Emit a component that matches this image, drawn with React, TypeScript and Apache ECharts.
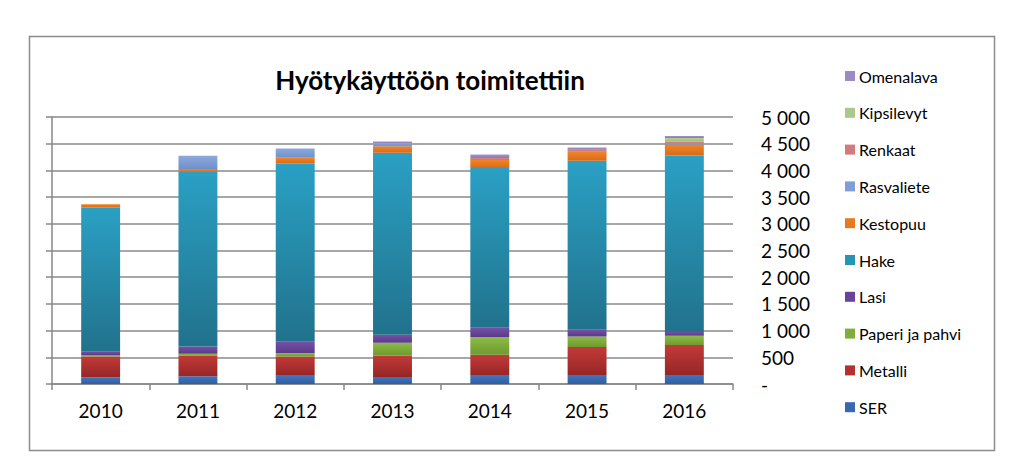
import React, { useEffect, useRef } from "react";
import * as echarts from "echarts";

const years = ["2010", "2011", "2012", "2013", "2014", "2015", "2016"];
const ser = [125, 143, 156, 131, 156, 168, 168];
const metalli = [390, 387, 361, 405, 392, 524, 561];
const paperi = [30, 37, 62, 237, 330, 199, 174];
const lasi = [60, 137, 212, 149, 175, 125, 69];
const hake = [2700, 3271, 3340, 3408, 2990, 3164, 3308];
const kestopuu = [62, 50, 105, 124, 150, 169, 206];
const rasvaliete = [0, 249, 175, 60, 0, 0, 20];
const renkaat = [0, 0, 0, 0, 40, 40, 30];
const kipsilevyt = [0, 0, 0, 0, 0, 0, 70];
const omenalava = [0, 0, 0, 28, 66, 41, 40];

const yMin = 0;
const yMax = 5000;
const yStep = 500;

const FONT = "Lato, 'Open Sans', sans-serif";

function grad(top: string, bottom: string) {
  return new echarts.graphic.LinearGradient(0, 0, 0, 1, [
    { offset: 0, color: top },
    { offset: 1, color: bottom },
  ]);
}

const seriesDefs: { name: string; data: number[]; color: any; legendColor: string }[] = [
  { name: "SER", data: ser, color: grad("#3f74bf", "#2f5f9f"), legendColor: "#3868ae" },
  { name: "Metalli", data: metalli, color: grad("#c23a38", "#962626"), legendColor: "#b2302e" },
  { name: "Paperi ja pahvi", data: paperi, color: grad("#8cbb45", "#6f9a30"), legendColor: "#80ad3c" },
  { name: "Lasi", data: lasi, color: grad("#7650a6", "#5a3a88"), legendColor: "#67449a" },
  { name: "Hake", data: hake, color: grad("#2aa0c4", "#21728c"), legendColor: "#2794b4" },
  { name: "Kestopuu", data: kestopuu, color: grad("#f08428", "#d96b17"), legendColor: "#e77a20" },
  { name: "Rasvaliete", data: rasvaliete, color: grad("#8ca9dc", "#7090c8"), legendColor: "#7f9ed4" },
  { name: "Renkaat", data: renkaat, color: grad("#d88a8c", "#c47074"), legendColor: "#d27a7e" },
  { name: "Kipsilevyt", data: kipsilevyt, color: grad("#b3d296", "#98bd78"), legendColor: "#a8c98a" },
  { name: "Omenalava", data: omenalava, color: grad("#a796cc", "#8a78b6"), legendColor: "#9b8ac4" },
];

function fmt(v: number) {
  if (v === 0) return "-";
  return String(v).replace(/\B(?=(\d{3})+(?!\d))/g, " ");
}

export default function App() {
  const ref = useRef<HTMLDivElement>(null);
  useEffect(() => {
    if (!ref.current) return;
    const chart = echarts.init(ref.current, undefined, { renderer: "svg" });
    chart.setOption({
      animation: false,
      backgroundColor: "#ffffff",
      title: {
        text: "Hyötykäyttöön toimitettiin",
        left: 425,
        textAlign: "center",
        top: 62,
        textStyle: { fontFamily: FONT, fontSize: 26, fontWeight: "bold", color: "#000" },
      },
      graphic: [
        {
          type: "rect",
          shape: { x: 29.5, y: 36.5, width: 965, height: 414 },
          style: { fill: "none", stroke: "#8c8c8c", lineWidth: 1.5 },
          silent: true,
        },
      ],
      legend: {
        orient: "vertical",
        left: 840,
        top: 63,
        icon: "rect",
        itemWidth: 10,
        itemHeight: 10,
        itemGap: 20.8,
        data: seriesDefs
          .slice()
          .reverse()
          .map((s) => ({ name: s.name, itemStyle: { color: s.legendColor } })),
        textStyle: { fontFamily: FONT, fontSize: 16, color: "#000", lineHeight: 16, padding: [0, 0, 0, -1] },
      },
      grid: { left: 52, right: 290, top: 117, bottom: 90 },
      xAxis: {
        type: "category",
        data: years,
        axisLine: { show: true, lineStyle: { color: "#878787", width: 1.5 } },
        axisTick: { show: true, length: 6, lineStyle: { color: "#878787", width: 1.5 } },
        axisLabel: { fontFamily: FONT, fontSize: 19, color: "#000", margin: 17 },
      },
      yAxis: [
        {
          type: "value",
          min: yMin,
          max: yMax,
          interval: yStep,
          position: "left",
          axisLine: { show: true, lineStyle: { color: "#878787", width: 1.5 } },
          axisTick: { show: true, length: 6, lineStyle: { color: "#878787", width: 1.5 } },
          axisLabel: { show: false },
          splitLine: { show: true, lineStyle: { color: "#8a8a8a", width: 1.5 } },
        },
        {
          type: "value",
          min: yMin,
          max: yMax,
          interval: yStep,
          position: "right",
          axisLine: { show: false },
          axisTick: { show: false },
          splitLine: { show: false },
          axisLabel: {
            fontFamily: FONT,
            fontSize: 19,
            color: "#000",
            margin: 28,
            align: "left",
            formatter: (v: number) => fmt(v),
          },
        },
      ],
      series: seriesDefs.map((s) => ({
        name: s.name,
        type: "bar",
        stack: "total",
        yAxisIndex: 0,
        barWidth: "40%",
        data: s.data,
        itemStyle: { color: s.color },
      })),
    });
    return () => chart.dispose();
  }, []);
  return (
    <div
      ref={ref}
      style={{ position: "fixed", left: 0, top: 0, width: 1023, height: 474 }}
    />
  );
}
